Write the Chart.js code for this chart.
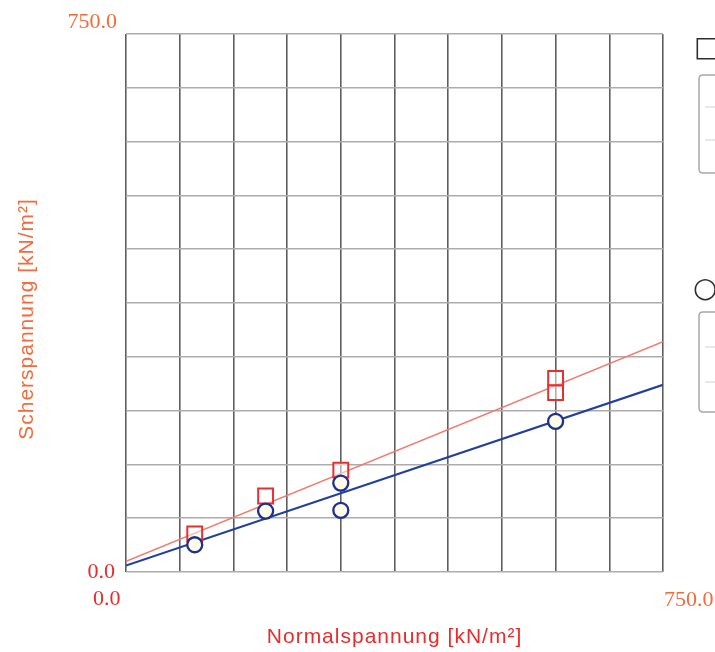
<!DOCTYPE html>
<html>
<head>
<meta charset="utf-8">
<script src="https://cdn.jsdelivr.net/npm/chart.js@4/dist/chart.umd.min.js"></script>
<style>
  html, body { margin: 0; padding: 0; background: #ffffff; }
  #wrap { width: 715px; height: 652px; }
</style>
</head>
<body>
<div id="wrap"><canvas id="c" width="715" height="652"></canvas></div>
<script>
// Shear test results: normal stress vs. shear stress [kN/m²]
const sigmaSquares = [96, 195, 300, 600, 600];
const tauSquares   = [53, 106, 142, 270, 250];
const sigmaCircles = [96, 195, 300, 300, 600];
const tauCircles   = [38, 85, 124, 86, 210];

// Failure lines (tau at sigma = 0 and sigma = 750)
const fitSigma = [0, 750];
const fitRed   = [15, 321];
const fitBlue  = [9, 261];

const axisMin = 0;
const axisMax = 750;
const axisStep = 75;
const xTickLabels = ['0.0', '750.0'];
const yTickLabels = ['0.0', '750.0'];
const xTitle = 'Normalspannung [kN/m²]';
const yTitle = 'Scherspannung [kN/m²]';
const legendSymbols = ['□', '○'];

const pts = (xs, ys) => xs.map((x, i) => ({ x: x, y: ys[i] }));

const ORANGE = '#f36b3b';
const RED = '#e92b2b';

const labelsPlugin = {
  id: 'labelsPlugin',
  afterDraw(chart) {
    const ctx = chart.ctx;
    const xs = chart.scales.x, ys = chart.scales.y;
    const L = xs.getPixelForValue(axisMin), R = xs.getPixelForValue(axisMax);
    const B = ys.getPixelForValue(axisMin), T = ys.getPixelForValue(axisMax);
    ctx.save();
    ctx.font = '22px "Liberation Serif", serif';
    ctx.textBaseline = 'alphabetic';
    // y tick labels
    ctx.textAlign = 'right';
    ctx.fillStyle = ORANGE;
    ctx.fillText(yTickLabels[1], L - 9, T - 6);
    ctx.fillStyle = RED;
    ctx.fillText(yTickLabels[0], L - 11, B + 6);
    // x tick labels
    ctx.textAlign = 'left';
    ctx.fillStyle = RED;
    ctx.fillText(xTickLabels[0], L - 33, B + 33);
    ctx.fillStyle = ORANGE;
    ctx.fillText(xTickLabels[1], R + 1, B + 34);

    // axis titles
    ctx.font = '21px "Liberation Sans", Arial, sans-serif';
    try { ctx.letterSpacing = '1px'; } catch (e) {}
    ctx.textAlign = 'center';
    ctx.fillStyle = RED;
    ctx.fillText(xTitle, (L + R) / 2, B + 71);
    ctx.save();
    ctx.translate(L - 93, (T + B) / 2 + 16);
    ctx.rotate(-Math.PI / 2);
    ctx.fillStyle = ORANGE;
    ctx.fillText(yTitle, 0, 0);
    ctx.restore();
    try { ctx.letterSpacing = '0px'; } catch (e) {}

    // legend remnants at the right edge
    ctx.font = '28px "DejaVu Sans", sans-serif';
    ctx.textAlign = 'left';
    ctx.fillStyle = '#2e2e2e';
    ctx.fillText(legendSymbols[0], 694, 56);
    ctx.fillText(legendSymbols[1], 693, 297);

    const box = (top, bottom, rows) => {
      ctx.strokeStyle = '#a8a8a8';
      ctx.lineWidth = 1.5;
      ctx.beginPath();
      ctx.moveTo(725, top);
      ctx.lineTo(703, top);
      ctx.quadraticCurveTo(699, top, 699, top + 4);
      ctx.lineTo(699, bottom - 4);
      ctx.quadraticCurveTo(699, bottom, 703, bottom);
      ctx.lineTo(725, bottom);
      ctx.stroke();
      ctx.strokeStyle = '#d0d0d0';
      ctx.lineWidth = 1;
      rows.forEach(y => {
        ctx.beginPath();
        ctx.moveTo(705, y);
        ctx.lineTo(725, y);
        ctx.stroke();
      });
    };
    box(75, 173, [107, 140]);
    box(312, 412, [347, 382]);
    ctx.restore();
  }
};

new Chart(document.getElementById('c'), {
  type: 'scatter',
  data: {
    datasets: [
      {
        label: 'circles',
        data: pts(sigmaCircles, tauCircles),
        pointStyle: 'circle',
        pointRadius: 7.5,
        pointBorderWidth: 2.3,
        pointBorderColor: '#1e2f8c',
        pointBackgroundColor: '#fdfbea',
        showLine: false,
        order: 0
      },
      {
        label: 'squares',
        data: pts(sigmaSquares, tauSquares),
        pointStyle: 'rect',
        pointRadius: 10.5,
        pointBorderWidth: 2,
        pointBorderColor: '#e33030',
        pointBackgroundColor: 'rgba(255,255,255,0.5)',
        showLine: false,
        order: 1
      },
      {
        label: 'fit blue',
        data: pts(fitSigma, fitBlue),
        showLine: true,
        borderColor: '#21409c',
        borderWidth: 2.2,
        pointRadius: 0,
        order: 2
      },
      {
        label: 'fit red',
        data: pts(fitSigma, fitRed),
        showLine: true,
        borderColor: '#f27a70',
        borderWidth: 1.6,
        pointRadius: 0,
        order: 3
      }
    ]
  },
  options: {
    responsive: false,
    animation: false,
    layout: { padding: { left: 126, top: 34, right: 52, bottom: 80 } },
    plugins: { legend: { display: false }, tooltip: { enabled: false } },
    scales: {
      x: {
        type: 'linear',
        min: axisMin, max: axisMax,
        ticks: { display: false, stepSize: axisStep },
        grid: { color: '#5e5e5e', lineWidth: 1.6, drawTicks: false },
        border: { display: false },
        afterFit: s => { s.height = 0; }
      },
      y: {
        type: 'linear',
        min: axisMin, max: axisMax,
        ticks: { display: false, stepSize: axisStep },
        grid: { color: '#acacac', lineWidth: 1.5, drawTicks: false },
        border: { display: false },
        afterFit: s => { s.width = 0; }
      }
    }
  },
  plugins: [labelsPlugin]
});
</script>
</body>
</html>
